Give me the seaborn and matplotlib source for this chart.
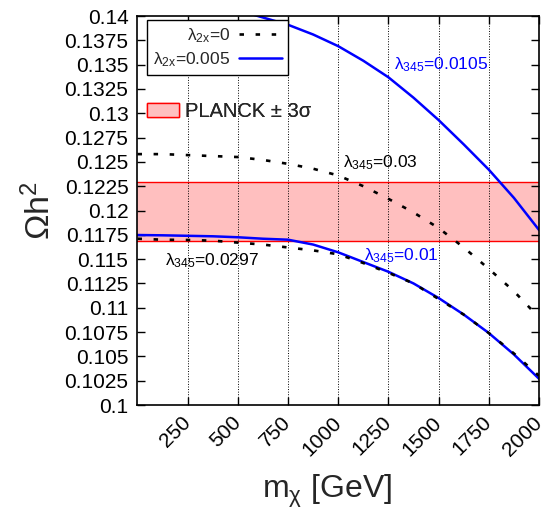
import matplotlib
matplotlib.use("Agg")
import matplotlib.pyplot as plt
import seaborn as sns
from matplotlib.lines import Line2D
from matplotlib.patches import Patch

# ---------------- data ----------------
m_chi = [0, 125, 250, 375, 500, 625, 750, 875, 1000, 1125, 1250, 1375,
         1500, 1625, 1750, 1875, 2000]

# lambda_2x = 0, lambda_345 = 0.03 (black dashed)
omega_l2x0_l345_0030 = [0.1258, 0.1258, 0.1257, 0.1256, 0.1255, 0.1252, 0.1248,
                        0.1243, 0.1236, 0.1225, 0.1212, 0.1198, 0.1182, 0.1162,
                        0.1140, 0.1117, 0.1090]
# lambda_2x = 0, lambda_345 = 0.0297 (black dashed)
omega_l2x0_l345_0297 = [0.1171, 0.1170, 0.11697, 0.1169, 0.1167, 0.1165, 0.1162,
                        0.1159, 0.1155, 0.1146, 0.1136, 0.1125, 0.1109, 0.1093,
                        0.1074, 0.1053, 0.1030]
# lambda_2x = 0.005, lambda_345 = 0.0105 (blue solid)
m_chi_hi = [500, 625, 750, 875, 1000, 1125, 1250, 1375, 1500, 1625, 1750, 1875, 2000]
omega_l2x5_l345_0105 = [0.1406, 0.13985, 0.1391, 0.1381, 0.1369, 0.1354, 0.1337,
                        0.1316, 0.1293, 0.1268, 0.1242, 0.1213, 0.1180]
# lambda_2x = 0.005, lambda_345 = 0.01 (blue solid)
omega_l2x5_l345_0100 = [0.11748, 0.11745, 0.1174, 0.11735, 0.11725, 0.1171, 0.1170,
                        0.1165, 0.1157, 0.1147, 0.1137, 0.1125, 0.1110, 0.1093,
                        0.1074, 0.1052, 0.1027]

planck_low = 0.1169
planck_high = 0.1229

x_ticks = [250, 500, 750, 1000, 1250, 1500, 1750, 2000]
y_ticks = [0.1, 0.1025, 0.105, 0.1075, 0.11, 0.1125, 0.115, 0.1175, 0.12,
           0.1225, 0.125, 0.1275, 0.13, 0.1325, 0.135, 0.1375, 0.14]
y_ticklabels = ["0.1", "0.1025", "0.105", "0.1075", "0.11", "0.1125", "0.115",
                "0.1175", "0.12", "0.1225", "0.125", "0.1275", "0.13", "0.1325",
                "0.135", "0.1375", "0.14"]

# ---------------- style ----------------
sns.set_style("ticks")
plt.rcParams["font.family"] = ["Liberation Sans", "DejaVu Sans"]
plt.rcParams["mathtext.fontset"] = "custom"
plt.rcParams["mathtext.rm"] = "Liberation Sans"
plt.rcParams["mathtext.it"] = "Liberation Sans:italic"
plt.rcParams["mathtext.bf"] = "Liberation Sans:bold"

BLUE = "#0000ff"
DASH = (0, (1.7, 4.4))

fig = plt.figure(figsize=(5.48, 5.09), dpi=100)
ax = fig.add_axes([0.2509, 0.2043, 0.7327, 0.7642])

# Planck band
ax.axhspan(planck_low, planck_high, facecolor="#ffbfbf", edgecolor="none", zorder=0.2)
ax.axhline(planck_low, color="red", lw=1.0, zorder=1.5)
ax.axhline(planck_high, color="red", lw=1.0, zorder=1.5)

# curves
sns.lineplot(x=m_chi, y=omega_l2x0_l345_0030, color="black", lw=1.9,
             linestyle=DASH, ax=ax, legend=False, zorder=3)
sns.lineplot(x=m_chi, y=omega_l2x0_l345_0297, color="black", lw=1.9,
             linestyle=DASH, ax=ax, legend=False, zorder=3)
sns.lineplot(x=m_chi_hi, y=omega_l2x5_l345_0105, color=BLUE, lw=1.8,
             ax=ax, legend=False, zorder=2.5)
sns.lineplot(x=m_chi, y=omega_l2x5_l345_0100, color=BLUE, lw=1.8,
             ax=ax, legend=False, zorder=2.5)

ax.set_xlim(0, 2000)
ax.set_ylim(0.1, 0.14)

# grid: vertical dotted lines only
ax.set_axisbelow(True)
ax.xaxis.grid(True, linestyle=":", color="black", lw=0.7)
ax.yaxis.grid(False)

ax.set_xticks(x_ticks)
ax.set_xticklabels([str(t) for t in x_ticks], rotation=45, ha="right",
                   va="center", rotation_mode="anchor")
ax.set_yticks(y_ticks)
ax.set_yticklabels(y_ticklabels)
ax.tick_params(axis="both", direction="in", length=6, width=1.0,
               top=True, right=True, labelsize=15, colors="black")
ax.tick_params(axis="y", pad=6.5)
ax.tick_params(axis="x", pad=10.5)
for s in ax.spines.values():
    s.set_linewidth(1.2)
    s.set_color("black")
    s.set_zorder(4)

ax.set_xlabel("m$_{\\mathregular{χ}}$ [GeV]", fontsize=23)
ax.set_ylabel("Ωh$^{\\mathregular{2}}$", fontsize=24.5)
ax.xaxis.set_label_coords(0.472, -0.175)
ax.yaxis.set_label_coords(-0.200, 0.5)

# annotations
ax.text(1277, 0.1350, "λ$_{\\mathregular{345}}$=0.0105", color=BLUE, fontsize=12.5,
        ha="left", va="center")
ax.text(1026, 0.1249, "λ$_{\\mathregular{345}}$=0.03", color="black", fontsize=12.5,
        ha="left", va="center")
ax.text(1128, 0.1154, "λ$_{\\mathregular{345}}$=0.01", color=BLUE, fontsize=12.5,
        ha="left", va="center")
ax.text(137, 0.1148, "λ$_{\\mathregular{345}}$=0.0297", color="black", fontsize=12.5,
        ha="left", va="center")

# legends
h0 = Line2D([], [], color="black", lw=1.9, linestyle=DASH)
h1 = Line2D([], [], color=BLUE, lw=1.8)
leg1 = ax.legend(handles=[h0, h1],
                 labels=["λ$_{\\mathregular{2x}}$=0", "λ$_{\\mathregular{2x}}$=0.005"],
                 loc="upper left", bbox_to_anchor=(0.024, 0.99), borderaxespad=0,
                 markerfirst=False, fancybox=False, edgecolor="black", framealpha=1,
                 fontsize=12.5, handlelength=2.5, handletextpad=0.5,
                 borderpad=0.35, labelspacing=0.3)
leg1.get_frame().set_linewidth(1.0)
ax.add_artist(leg1)

leg2 = ax.legend(handles=[Patch(facecolor="#ffbfbf", edgecolor="red", lw=1.0)],
                 labels=["PLANCK ± 3σ"], loc="upper left",
                 bbox_to_anchor=(0.0237, 0.779), borderaxespad=0, borderpad=0,
                 frameon=False, fontsize=14.5, handlelength=1.6, handleheight=0.65,
                 handletextpad=0.3)
ax.add_artist(leg2)

fig.savefig("out.png", dpi=100)
